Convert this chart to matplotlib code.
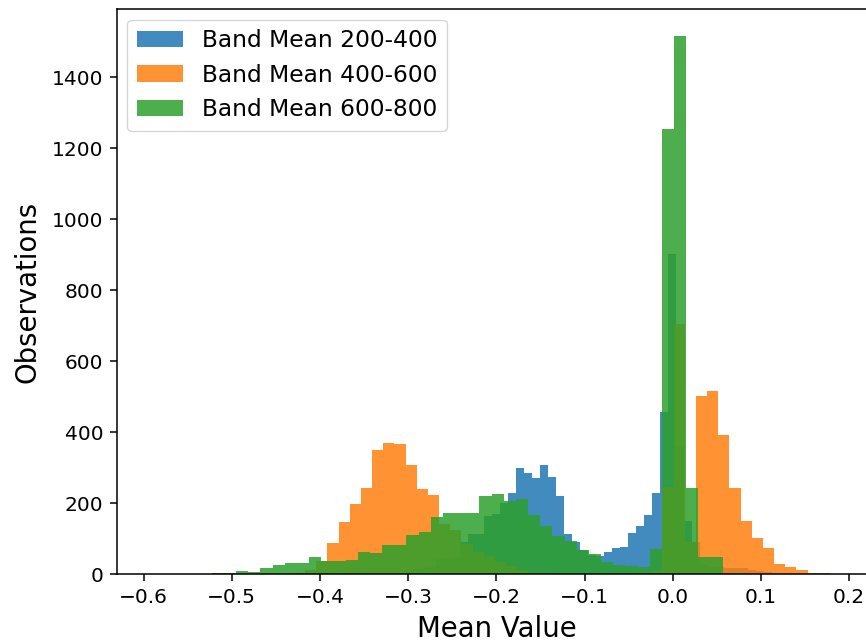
import numpy as np
import matplotlib
matplotlib.use('Agg')
import matplotlib.pyplot as plt

# bin ranges (each series binned over its own span) and counts
BLUE_RANGE = (-0.3046, 0.1761)
BLUE_COUNTS = [8, 15, 18, 20, 42, 46, 50, 90, 114, 114, 165, 170, 200, 229,
               299, 285, 271, 308, 274, 221, 114, 90, 69, 54, 51, 62, 73, 76,
               116, 136, 167, 229, 457, 902, 359, 150, 90, 30, 22, 20, 18, 18,
               17, 12, 10, 7, 5, 4, 3, 2, 2, 1, 1]

ORANGE_RANGE = (-0.4549, 0.1783)
ORANGE_COUNTS = [1, 2, 4, 12, 38, 87, 147, 198, 243, 350, 370, 367, 308, 240,
                 224, 142, 125, 85, 63, 52, 35, 23, 12, 5, 3, 2, 1, 1, 1, 1,
                 1, 2, 3, 4, 8, 245, 705, 92, 502, 515, 391, 242, 149, 101,
                 73, 30, 22, 11, 3, 3]

GREEN_RANGE = (-0.5227, 0.1670)
GREEN_COUNTS = [3, 3, 9, 6, 19, 26, 33, 33, 49, 37, 37, 40, 63, 60, 83, 83,
                112, 119, 161, 173, 173, 173, 221, 226, 206, 212, 166, 136,
                108, 94, 69, 57, 35, 26, 23, 20, 71, 1254, 1517, 242, 50, 48,
                5, 3, 2, 1, 1, 0, 0, 1]

LABELS = ['Band Mean 200-400', 'Band Mean 400-600', 'Band Mean 600-800']
SERIES = [(BLUE_RANGE, BLUE_COUNTS, '#1f77b4'),
          (ORANGE_RANGE, ORANGE_COUNTS, '#ff7f0e'),
          (GREEN_RANGE, GREEN_COUNTS, '#2ca02c')]

fig = plt.figure(figsize=(8.66, 6.43), dpi=100)
ax = fig.add_axes([0.1348, 0.1068, 0.8768, 0.8792])

for (rng, counts, color), label in zip(SERIES, LABELS):
    edges = np.linspace(rng[0], rng[1], len(counts) + 1)
    mids = (edges[:-1] + edges[1:]) / 2
    ax.hist(mids, bins=edges, weights=counts, color=color, alpha=0.85,
            label=label)

ax.set_xlim(-0.6304, 0.2305)
ax.set_ylim(0, 1592)
ax.set_xticks(np.round(np.arange(-0.6, 0.21, 0.1), 1))
ax.set_yticks(range(0, 1401, 200))
ax.tick_params(labelsize=14.5, length=4.9, width=1.1, pad=4.9)
for sp in ax.spines.values():
    sp.set_linewidth(1.1)

ax.set_xlabel('Mean Value', fontsize=19.8, labelpad=6)
ax.set_ylabel('Observations', fontsize=19.8, labelpad=7)
ax.legend(loc='upper left', fontsize=16.8, borderaxespad=0.45)

fig.savefig('out.png', dpi=100)
